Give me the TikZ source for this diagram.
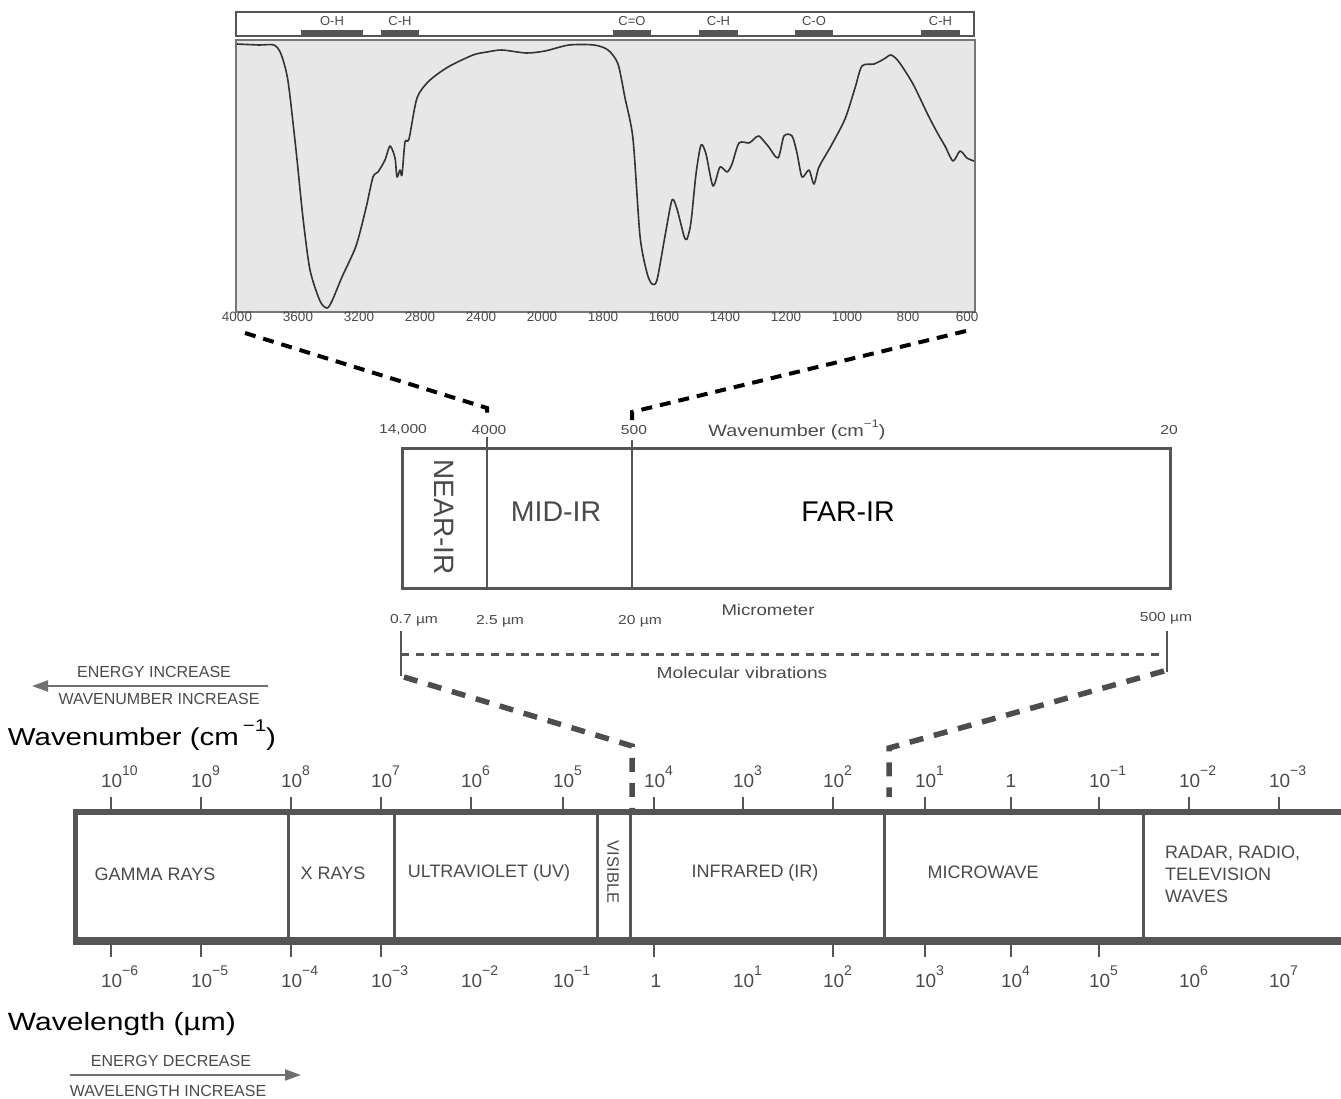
\documentclass[tikz,border=0pt]{standalone}
\usepackage{fontspec}
\setmainfont{Liberation Sans}
\newfontfamily\widesans[FakeStretch=1.2]{Liberation Sans}
\usetikzlibrary{arrows.meta}
\newcommand{\fsz}[1]{\fontsize{#1}{#1}\selectfont}
\newcommand{\pwr}[2]{#1\raisebox{0.6em}{\fsz{14}#2}}
\definecolor{linegray}{HTML}{555555}
\definecolor{textgray}{HTML}{4A4A4A}
\definecolor{plotbg}{HTML}{E7E7E7}
\definecolor{dashgray}{HTML}{4D4D4D}
\definecolor{arrowgray}{HTML}{707070}
\tikzset{
  every node/.style={inner sep=0pt, outer sep=0pt},
  bandline/.style={draw=linegray, line width=3pt},
  bandlab/.style={text=textgray, font=\fsz{18}},
  ticklab/.style={text=textgray, font=\fsz{19}, anchor=base west},
  tickmark/.style={draw=linegray, line width=1.2pt},
  axlab/.style={text=textgray, font=\fsz{13.5}},
  smalllab/.style={text=textgray, font=\widesans\fsz{13}},
  blackdash/.style={draw=black, line width=4pt, dash pattern=on 11pt off 8pt},
  graydash/.style={draw=dashgray, line width=5.5pt, dash pattern=on 14pt off 11pt},
  grayarrow/.style={draw=arrowgray, line width=2.2pt, -{Triangle[length=16pt,width=11pt]}},
  caplab/.style={text=textgray, font=\fsz{16}},
}
\begin{document}
\begin{tikzpicture}[x=1pt,y=-1pt]
\useasboundingbox (0,0) rectangle (1341,1098);

% ---------- top bar with group labels ----------
\node[draw=linegray, line width=1.8pt, fill=white, minimum width=738pt, minimum height=24pt, anchor=north west] (topbar) at (236,12) {};
\foreach \a/\b/\t [count=\i] in {301/363/O-H, 381/419/C-H, 613/651/C=O, 699/738/C-H, 795/833/C-O, 921/960/C-H}{
  \fill[linegray] (\a,30) rectangle (\b,35);
  \node[text=textgray, font=\fsz{13}] (grp\i) at ({(\a+\b)/2},21) {\t};
}

% ---------- spectrum plot ----------
\node[draw=linegray!80, line width=1.5pt, fill=plotbg, minimum width=739pt, minimum height=272pt, anchor=north west] (plotbox) at (236,40) {};
\draw[line width=1.6pt, color=black!80, line join=round] plot[smooth, tension=0.45] coordinates {
(237,44) (259,45) (274,45) (281,54) (288,81) (296,150) (303,218) (310,270) (320,301) (327,308)
(332,301) (342,277) (356,246) (366,208) (373,177) (378,172) (385,160) (390,146) (395,158)
(397,177) (400,170) (402,175) (405,142) (409,139) (417,98) (429,81) (448,67) (473,55)
(487,52) (502,50) (526,53) (545,51) (569,45) (594,45) (608,50) (618,64) (625,98) (633,139)
(640,236) (647,273) (652,284) (657,280) (665,236) (672,200) (677,209) (684,236) (687,239)
(691,222) (696,174) (701,145) (706,154) (713,186) (720,167) (727,172) (732,164) (739,143)
(749,143) (754,139) (759,136) (768,146) (778,158) (784,136) (792,136) (797,153) (802,177)
(809,170) (814,184) (819,167) (831,146) (845,119) (855,88) (862,66) (874,64) (884,59)
(891,55) (899,62) (913,84) (928,115) (938,134) (945,146) (953,161) (960,151) (967,158) (974,161)};
\foreach \x/\t [count=\i] in {237/4000, 298/3600, 359/3200, 420/2800, 481/2400, 542/2000, 603/1800, 664/1600, 725/1400, 786/1200, 847/1000, 908/800, 967/600}{
  \node[axlab] (ax\i) at (\x,317) {\t};
}

% ---------- zoom connectors (top) ----------
\coordinate (c1a) at (245,333);
\coordinate (c1b) at (487,408);
\coordinate (c1c) at (487,420);
\coordinate (c2a) at (966,331);
\coordinate (c2b) at (632,412);
\coordinate (c2c) at (632,420);
\draw[blackdash] (c1a) -- (c1b) -- (c1c);
\draw[blackdash] (c2a) -- (c2b) -- (c2c);

% ---------- IR regions box ----------
\node[draw=linegray, line width=3pt, minimum width=768pt, minimum height=140pt, anchor=north west] (irbox) at (402,448) {};
\draw[bandline, line width=2.5pt] (487,437) -- (487,588);
\draw[bandline, line width=2.5pt] (632,440) -- (632,588);
\node[smalllab] (w14000) at (403,430) {14,000};
\node[smalllab] (w4000) at (489,430) {4000};
\node[smalllab] (w500) at (634,430) {500};
\node[text=textgray, font=\widesans\fsz{16.5}] (wnmid) at (797,430) {Wavenumber (cm\raisebox{0.55em}{\fsz{11}−1})};
\node[smalllab] (w20) at (1169,430) {20};
\node[text=textgray, font=\fsz{28}, rotate=-90] (nearir) at (444,517) {NEAR-IR};
\node[text=textgray, font=\fsz{28.5}] (midir) at (556,512) {MID-IR};
\node[text=black, font=\fsz{28.5}] (farir) at (848,512) {FAR-IR};
\node[smalllab] (m07) at (414,620) {0.7 µm};
\node[smalllab] (m25) at (500,621) {2.5 µm};
\node[smalllab] (m20) at (640,621) {20 µm};
\node[text=textgray, font=\widesans\fsz{15.5}] (micro) at (768,610) {Micrometer};
\node[smalllab] (m500) at (1166,618) {500 µm};

% ---------- molecular vibrations bracket ----------
\coordinate (bl1) at (401,631);
\coordinate (bl2) at (401,676);
\coordinate (br1) at (1167,631);
\coordinate (br2) at (1167,672);
\draw[draw=linegray, line width=2pt] (bl1) -- (bl2);
\draw[draw=linegray, line width=2pt] (br1) -- (br2);
\draw[draw=linegray, line width=3pt, dash pattern=on 8pt off 7pt] (401,654) -- (1167,654);
\node[text=textgray, font=\widesans\fsz{16}] (molvib) at (742,673) {Molecular vibrations};

% ---------- zoom connectors (bottom) ----------
\coordinate (d1a) at (404,677);
\coordinate (d1b) at (632,746);
\coordinate (d1c) at (632,812);
\coordinate (d2a) at (1164,671);
\coordinate (d2b) at (889,748);
\coordinate (d2c) at (889,797);
\draw[graydash] (d1a) -- (d1b) -- (d1c);
\draw[graydash] (d2a) -- (d2b) -- (d2c);

% ---------- electromagnetic spectrum band ----------
\draw[draw=linegray, line width=6pt] (73,812) -- (1341,812);
\draw[draw=linegray, line width=8pt] (73,941) -- (1341,941);
\draw[draw=linegray, line width=5pt] (75,812) -- (75,941);
\foreach \x in {288,394,597,630,884,1143}{
  \draw[bandline] (\x,812) -- (\x,941);
}
\node[bandlab] (gamma) at (155,874) {GAMMA RAYS};
\node[bandlab] (xray) at (333,873) {X RAYS};
\node[bandlab] (uv) at (489,873) {ULTRAVIOLET (UV)};
\node[bandlab, font=\fsz{16.5}, rotate=-90] (vis) at (613,872) {VISIBLE};
\node[bandlab] (ir) at (755,873) {INFRARED (IR)};
\node[bandlab] (mw) at (983,872) {MICROWAVE};
\node[bandlab, anchor=west, align=left] (radio) at (1165,874) {RADAR, RADIO,\\[4pt]TELEVISION\\[4pt]WAVES};

% top scale (wavenumber)
\foreach \x/\e [count=\i] in {111/10, 201/9, 291/8, 381/7, 471/6, 563/5, 654/4, 743/3, 833/2, 925/1, 1099/−1, 1189/−2, 1279/−3}{
  \draw[tickmark] (\x,797) -- (\x,810);
  \node[ticklab] (tw\i) at (\x-10,787) {\pwr{10}{\e}};
}
\draw[tickmark] (1011,797) -- (1011,810);
\node[ticklab, anchor=base] (twone) at (1011,787) {1};

% bottom scale (wavelength)
\foreach \x/\e [count=\i] in {111/−6, 201/−5, 291/−4, 381/−3, 471/−2, 563/−1, 743/1, 833/2, 925/3, 1011/4, 1099/5, 1189/6, 1279/7}{
  \node[ticklab] (bw\i) at (\x-10,987) {\pwr{10}{\e}};
}
\foreach \x in {111,201,291,381,654,833,925,1011,1099}{
  \draw[tickmark] (\x,945) -- (\x,957);
}
\node[ticklab, anchor=base] (bwone) at (656,987) {1};

% ---------- side labels and arrows ----------
\node[caplab] (einc) at (154,672) {ENERGY INCREASE};
\coordinate (arr1a) at (268,686);
\coordinate (arr1b) at (32,686);
\draw[grayarrow] (arr1a) -- (arr1b);
\node[caplab] (winc) at (159,699) {WAVENUMBER INCREASE};
\node[anchor=west, font=\widesans\fsz{24.5}] (wnbig) at (8,735) {Wavenumber (cm\,\raisebox{0.55em}{\fsz{17}−1})};
\node[anchor=west, font=\widesans\fsz{25}] (wlbig) at (8,1024) {Wavelength (µm)};
\node[caplab] (edec) at (171,1061) {ENERGY DECREASE};
\coordinate (arr2a) at (70,1075);
\coordinate (arr2b) at (301,1075);
\draw[grayarrow] (arr2a) -- (arr2b);
\node[caplab] (wlinc) at (168,1091) {WAVELENGTH INCREASE};
\end{tikzpicture}
\end{document}
